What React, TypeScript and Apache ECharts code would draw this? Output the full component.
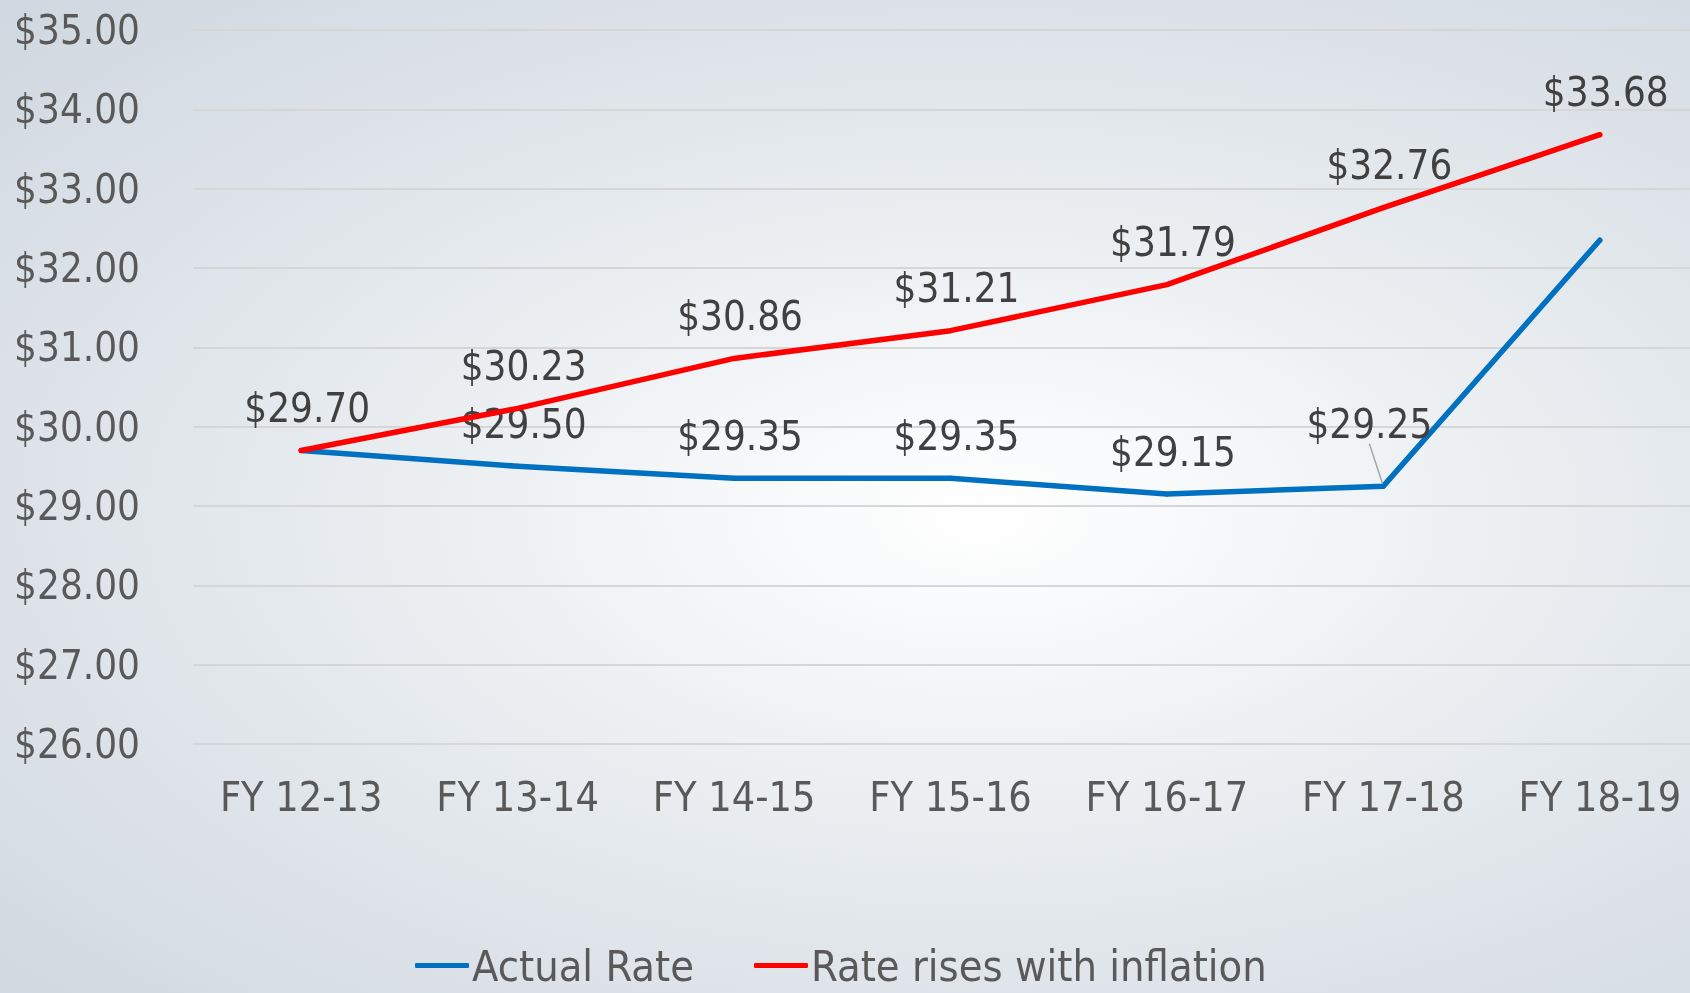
import React, { useEffect, useRef } from "react";
import * as echarts from "echarts";

const categories = ["FY 12-13", "FY 13-14", "FY 14-15", "FY 15-16", "FY 16-17", "FY 17-18", "FY 18-19"];
const actualRate = [29.7, 29.5, 29.35, 29.35, 29.15, 29.25, 32.35];
const inflationRate = [29.7, 30.23, 30.86, 31.21, 31.79, 32.76, 33.68];
const yTicks = { min: 26, max: 35, interval: 1 };
const seriesNames = ["Actual Rate", "Rate rises with inflation"];

const FONT = "'DejaVu Sans Condensed', 'Liberation Sans Narrow', 'DejaVu Sans', sans-serif";

export default function App() {
  const ref = useRef<HTMLDivElement>(null);
  useEffect(() => {
    if (!ref.current) return;
    const chart = echarts.init(ref.current, null, { renderer: "svg" });
    const fmt = (v: number) => "$" + v.toFixed(2);
    const blueData = actualRate.map((v, i) => {
      if (i === actualRate.length - 1) return { value: v, label: { show: false } };
      if (i === 5) return { value: v, labelLine: { show: true } };
      return { value: v };
    });
    const redData = inflationRate.map((v, i) => (i === 0 ? { value: v, label: { show: false } } : { value: v }));
    const labelBase = {
      show: true,
      position: "top",
      distance: 20,
      fontSize: 40,
      color: "#404040",
      fontFamily: FONT,
      formatter: (p: any) => fmt(p.value),
    };
    chart.setOption({
      animation: false,
      backgroundColor: "transparent",
      textStyle: { fontFamily: FONT },
      grid: { left: 193, right: 0, top: 30, bottom: 249, containLabel: false },
      legend: {
        data: seriesNames,
        left: 415,
        top: 944,
        itemWidth: 54,
        itemHeight: 5,
        itemGap: 60,
        icon: "roundRect",
        padding: 0,
        textStyle: { fontSize: 43, color: "#595959", fontFamily: FONT, padding: [0, 0, 0, -2] },
      },
      xAxis: {
        type: "category",
        data: categories,
        boundaryGap: true,
        axisLine: { show: false },
        axisTick: { show: false },
        axisLabel: { fontSize: 41, color: "#595959", margin: 32, fontFamily: FONT },
      },
      yAxis: {
        type: "value",
        min: yTicks.min,
        max: yTicks.max,
        interval: yTicks.interval,
        axisLine: { show: false },
        axisTick: { show: false },
        axisLabel: { fontSize: 40, color: "#595959", margin: 53, formatter: fmt, fontFamily: FONT },
        splitLine: { lineStyle: { color: "#d6d6d6", width: 2 } },
      },
      series: [
        {
          name: seriesNames[0],
          type: "line",
          data: blueData,
          symbol: "circle",
          symbolSize: 5,
          color: "#0070C0",
          lineStyle: { width: 5.5, color: "#0070C0", cap: "round", join: "round" },
          itemStyle: { color: "#0070C0" },
          label: labelBase,
          labelLine: { show: false, lineStyle: { color: "#a6a6a6", width: 1.5 } },
          labelLayout: (p: any) => (p.dataIndex === 5 ? { dx: -14, dy: -20 } : { dx: 6 }),
          z: 2,
        },
        {
          name: seriesNames[1],
          type: "line",
          data: redData,
          symbol: "circle",
          symbolSize: 5,
          color: "#FF0000",
          lineStyle: { width: 5.5, color: "#FF0000", cap: "round", join: "round" },
          itemStyle: { color: "#FF0000" },
          label: labelBase,
          labelLayout: () => ({ dx: 6 }),
          z: 3,
        },
      ],
    });
    return () => chart.dispose();
  }, []);
  return (
    <div
      style={{
        position: "fixed",
        left: 0,
        top: 0,
        width: 1690,
        height: 993,
        overflow: "hidden",
        background:
          "radial-gradient(ellipse farthest-corner at 58% 52%, #ffffff 0%, #f4f6f8 22%, #e3e8ec 55%, #cfd7e0 100%)",
      }}
    >
      <div ref={ref} style={{ width: 1708, height: 993 }} />
    </div>
  );
}
